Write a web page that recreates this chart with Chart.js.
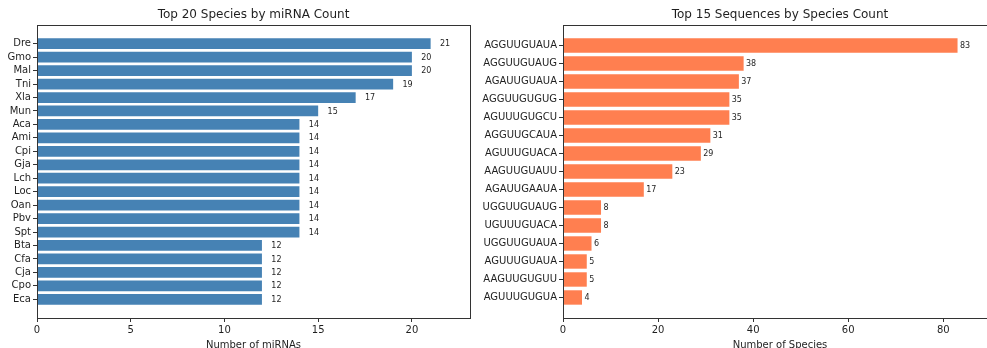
<!DOCTYPE html>
<html>
<head>
<meta charset="utf-8">
<script src="https://cdn.jsdelivr.net/npm/chart.js@4/dist/chart.umd.min.js"></script>
<style>
  html, body { margin: 0; padding: 0; background: #fff; overflow: hidden; }
  body { width: 987px; height: 348px; position: relative; }
  .pane { position: absolute; top: 0; height: 348px; }
  #left { left: 0; width: 493px; }
  #right { left: 478px; width: 532px; }
</style>
</head>
<body>
<div class="pane" id="left"><canvas id="speciesChart" width="493" height="348"></canvas></div>
<div class="pane" id="right"><canvas id="seqChart" width="532" height="348"></canvas></div>
<script>
// Species ranked by number of miRNAs
const speciesNames = ['Dre','Gmo','Mal','Tni','Xla','Mun','Aca','Ami','Cpi','Gja','Lch','Loc','Oan','Pbv','Spt','Bta','Cfa','Cja','Cpo','Eca'];
const speciesCounts = [21,20,20,19,17,15,14,14,14,14,14,14,14,14,14,12,12,12,12,12];

// Seed sequences ranked by number of species
const seqNames = ['AGGUUGUAUA','AGGUUGUAUG','AGAUUGUAUA','AGGUUGUGUG','AGUUUGUGCU','AGGUUGCAUA','AGUUUGUACA','AAGUUGUAUU','AGAUUGAAUA','UGGUUGUAUG','UGUUUGUACA','UGGUUGUAUA','AGUUUGUAUA','AAGUUGUGUU','AGUUUGUGUA'];
const seqCounts = [83,38,37,35,35,31,29,23,17,8,8,6,5,5,4];

const xTicksLeft = [0,5,10,15,20];
const xTicksRight = [0,20,40,60,80];

const FONT = 'DejaVu Sans';
const INK = '#1f1f1f';

// Frame, centred title and value labels, drawn the way matplotlib lays them out
function decorations(title) {
  return {
    id: 'decor',
    afterDraw(chart) {
      const { ctx, chartArea: a } = chart;
      ctx.save();
      ctx.strokeStyle = '#333';
      ctx.lineWidth = 1;
      ctx.strokeRect(Math.round(a.left) + 0.5, Math.round(a.top) + 0.5,
                     Math.round(a.right - a.left), Math.round(a.bottom - a.top));
      ctx.fillStyle = INK;
      ctx.font = `12px "${FONT}"`;
      ctx.textAlign = 'center';
      ctx.textBaseline = 'middle';
      ctx.fillText(title, (a.left + a.right) / 2, 15);

      const xs = chart.scales.x, ys = chart.scales.y;
      ctx.font = `8px "${FONT}"`;
      ctx.textAlign = 'left';
      chart.data.datasets[0].data.forEach(pt => {
        ctx.fillText(String(pt.x), xs.getPixelForValue(pt.x + 0.5), ys.getPixelForValue(pt.y) + 0.5);
      });
      ctx.restore();
    }
  };
}

function makeChart(id, names, counts, color, xTicks, xTitle, title, yWidth, padRight) {
  const n = names.length;
  const pad = 0.4 + 0.05 * (n - 1 + 0.8);
  const points = counts.map((v, i) => ({ x: v, y: i }));
  return new Chart(document.getElementById(id), {
    type: 'bar',
    data: {
      datasets: [{
        data: points,
        backgroundColor: color,
        borderWidth: 0,
        barPercentage: 0.8,
        categoryPercentage: 1.0
      }]
    },
    options: {
      indexAxis: 'y',
      responsive: false,
      animation: false,
      layout: { padding: { left: 0, right: padRight, top: 25, bottom: 0 } },
      plugins: { legend: { display: false }, tooltip: { enabled: false }, title: { display: false } },
      scales: {
        x: {
          type: 'linear',
          min: 0,
          max: Math.max(...counts) * 1.1,
          afterBuildTicks: s => { s.ticks = xTicks.map(v => ({ value: v })); },
          afterFit: s => { s.height = 30; },
          ticks: { font: { family: FONT, size: 10 }, color: INK, padding: 2, maxRotation: 0 },
          grid: { display: true, drawOnChartArea: false, drawTicks: true, tickLength: 4, color: '#333' },
          border: { display: true, color: '#333' },
          title: { display: true, text: xTitle, font: { family: FONT, size: 10 }, color: INK, padding: { top: 1, bottom: -3 } }
        },
        y: {
          type: 'linear',
          reverse: true,
          offset: false,
          min: -pad,
          max: n - 1 + pad,
          afterBuildTicks: s => { s.ticks = names.map((_, i) => ({ value: i })); },
          afterFit: s => { s.width = yWidth; },
          ticks: {
            font: { family: FONT, size: 10 }, color: INK, padding: 2, autoSkip: false,
            callback: v => names[v]
          },
          grid: { display: true, offset: false, drawOnChartArea: false, drawTicks: true, tickLength: 4, color: '#333' },
          border: { display: true, color: '#333' }
        }
      }
    },
    plugins: [decorations(title)]
  });
}

makeChart('speciesChart', speciesNames, speciesCounts, '#4682B4', xTicksLeft,
  'Number of miRNAs', 'Top 20 Species by miRNA Count', 37, 23);
makeChart('seqChart', seqNames, seqCounts, '#FF7F50', xTicksRight,
  'Number of Species', 'Top 15 Sequences by Species Count', 85, 13);
</script>
</body>
</html>
